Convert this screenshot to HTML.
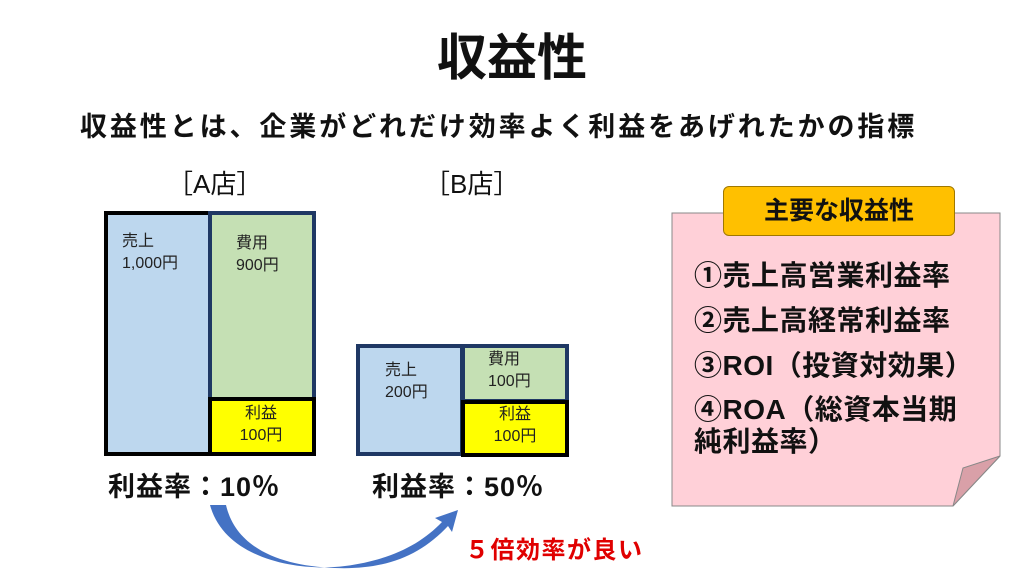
<!DOCTYPE html>
<html><head><meta charset="utf-8"><style>
body{margin:0;width:1024px;height:576px;background:#fff;position:relative;overflow:hidden;font-family:"Liberation Sans","Noto Sans CJK JP",sans-serif;font-weight:bold;color:#111}
.a{position:absolute;box-sizing:border-box}
.t{position:absolute;white-space:nowrap}
.s{font-size:16px;line-height:22px;font-weight:normal;color:#222}
</style></head><body>
<div class="t" style="left:0;width:1024px;text-align:center;top:28px;font-size:50px;line-height:60px">収益性</div>
<div class="t" style="left:80px;top:110px;font-size:27px;line-height:34px;letter-spacing:2.9px">収益性とは、企業がどれだけ効率よく利益をあげれたかの指標</div>
<div class="t" style="left:167px;top:164px;font-size:26px;font-weight:normal">［A店］</div>
<div class="t" style="left:424px;top:164px;font-size:26px;font-weight:normal">［B店］</div>

<div class="a" style="left:104px;top:211px;width:108px;height:245px;background:#bdd7ee;border:4px solid #000;border-right:none"></div>
<div class="a" style="left:208px;top:211px;width:108px;height:190px;background:#c5e0b4;border:4px solid #1f3864"></div>
<div class="a" style="left:208px;top:397px;width:108px;height:59px;background:#ffff00;border:4px solid #000"></div>
<div class="t s" style="left:122px;top:231px">売上<br>1,000円</div>
<div class="t s" style="left:236px;top:233px">費用<br>900円</div>
<div class="t s" style="left:234px;top:403px;text-align:center;width:54px">利益<br>100円</div>

<div class="a" style="left:356px;top:344px;width:108px;height:112px;background:#bdd7ee;border:4px solid #1f3864"></div>
<div class="a" style="left:461px;top:344px;width:108px;height:59px;background:#c5e0b4;border:4px solid #1f3864"></div>
<div class="a" style="left:461px;top:400px;width:108px;height:57px;background:#ffff00;border:4px solid #000"></div>
<div class="t s" style="left:385px;top:360px">売上<br>200円</div>
<div class="t s" style="left:488px;top:349px">費用<br>100円</div>
<div class="t s" style="left:488px;top:404px;text-align:center;width:54px">利益<br>100円</div>

<div class="t" style="left:108px;top:465px;font-size:27px;letter-spacing:1px">利益率：10％</div>
<div class="t" style="left:372px;top:465px;font-size:27px;letter-spacing:1px">利益率：50％</div>

<svg class="a" style="left:0;top:0" width="1024" height="576">
<path d="M210,505 C225,560 300,572 345,566 C390,560 420,545 442,522 L435,518 L458,510 L452,532 L448,526 C420,556 385,570 335,568 C280,566 236,548 226,505 Z" fill="#4472c4"/>
<path d="M672,213 L1000,213 L1000,456 L953,506 L672,506 Z" fill="#ffd0d8" stroke="#888" stroke-width="1"/>
<path d="M953,506 L963,468 L1000,456 Z" fill="#d9a0a8" stroke="#888" stroke-width="1"/>
</svg>
<div class="a" style="left:723px;top:186px;width:232px;height:50px;background:#ffc000;border:1px solid #a07800;border-radius:6px;text-align:center;font-size:25px;line-height:48px">主要な収益性</div>
<div class="t" style="left:694px;top:253px;font-size:28px;line-height:45px;letter-spacing:0.5px">①売上高営業利益率<br>②売上高経常利益率<br>③ROI（投資対効果）<div style="line-height:32px;margin-top:6px">④ROA（総資本当期<br>純利益率）</div></div>

<div class="t" style="left:465px;top:530px;font-size:24px;letter-spacing:1.5px;color:#e00000">５倍効率が良い</div>
</body></html>
